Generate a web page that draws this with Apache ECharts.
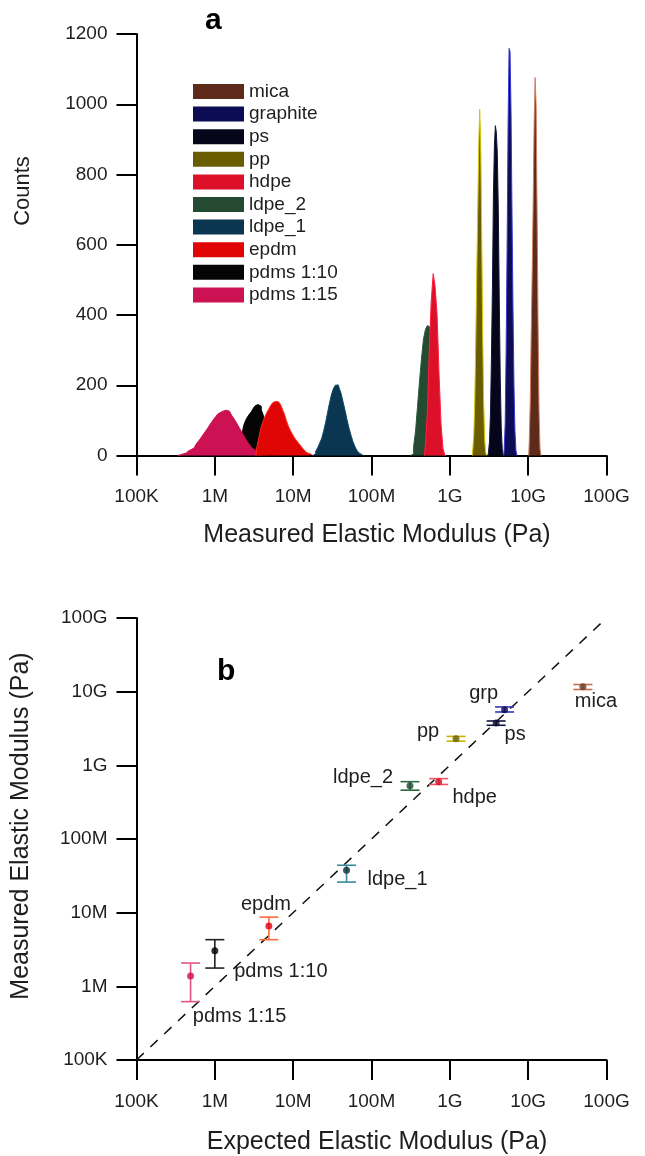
<!DOCTYPE html>
<html>
<head>
<meta charset="utf-8">
<script src="https://cdn.jsdelivr.net/npm/echarts@6/dist/echarts.min.js"></script>
<style>
html,body{margin:0;padding:0;background:#fff;}
#chart{width:645px;height:1156px;}
</style>
</head>
<body>
<div id="chart"></div>
<script>
// ---------- Panel a: histograms (log10 start of first bin, bin step in decades, counts) ----------
var histNames = ['pdms 1:10','pdms 1:15','epdm','ldpe_1','ldpe_2','hdpe','pp','ps','graphite','mica'];
var histStart = [6.33, 5.55, 6.55, 7.275, 8.525, 8.70, 9.30, 9.50, 9.70, 10.02];
var histStep  = [0.025, 0.025, 0.025, 0.025, 0.025, 0.025, 0.0125, 0.0125, 0.0125, 0.0125];
var countsPdms110 = [20,55,85,100,110,118,125,135,142,145,140,130,115,95,75,55,35,18,8];
var countsPdms115 = [2,3,5,7,10,13,17,22,27,33,40,47,55,63,71,79,88,96,104,111,118,123,127,130,129,126,121,115,107,98,89,79,69,59,49,40,32,25,19,14,10,6,4,2];
var countsEpdm    = [25,50,78,95,110,122,132,142,150,154,153,152,146,132,118,100,84,72,62,52,44,37,30,23,16,10,6,3];
var countsLdpe1   = [5,12,22,35,48,68,92,120,148,172,190,200,201,192,176,152,128,102,78,58,40,26,15,8,3];
var countsLdpe2   = [5,25,70,140,210,275,330,358,370,365,330,260,180,100,40,10];
var countsHdpe    = [30,120,300,440,518,480,400,230,90,20];
var countsPp      = [20,60,160,330,520,700,880,986,900,640,360,160,50,10];
var countsPs      = [10,40,120,280,480,740,880,939,920,860,700,440,220,80,20];
var countsGraphite= [15,90,300,600,950,1159,1150,980,690,420,200,70,15];
var countsMica    = [40,150,350,520,720,950,1076,1000,700,380,130,20];
var histCounts = [countsPdms110,countsPdms115,countsEpdm,countsLdpe1,countsLdpe2,countsHdpe,countsPp,countsPs,countsGraphite,countsMica];
var legendOrder = ['mica','graphite','ps','pp','hdpe','ldpe_2','ldpe_1','epdm','pdms 1:10','pdms 1:15'];
var countTicks = [0,200,400,600,800,1000,1200];

// ---------- Panel b: expected vs measured modulus (Pa) ----------
var pointNames = ['mica','grp','ps','pp','ldpe_2','hdpe','ldpe_1','epdm','pdms 1:10','pdms 1:15'];
var expected   = [5.0e10, 5.0e9, 3.9e9, 1.2e9, 3.1e8, 7.2e8, 4.8e7, 4.9e6, 1.0e6, 4.9e5];
var measured   = [1.17e10, 5.7e9, 3.76e9, 2.29e9, 5.3e8, 6.0e8, 3.76e7, 6.6e6, 3.05e6, 1.38e6];
var errLow     = [1.07e10, 5.3e9, 3.5e9, 2.13e9, 4.6e8, 5.5e8, 2.6e7, 4.3e6, 1.77e6, 6.2e5];
var errHigh    = [1.25e10, 6.2e9, 4.0e9, 2.47e9, 6.0e8, 6.6e8, 4.4e7, 8.7e6, 4.3e6, 2.07e6];
var modulusTickLabels = ['100K','1M','10M','100M','1G','10G','100G'];
var identityLine = [[1e5,1e5],[1e11,1e11]];

// ---------- styles ----------
var FONT = 'Liberation Sans';
var TXT = '#1e1e1e';
var histFill = {'mica':'#5e2a1a','graphite':'#0c0c55','ps':'#06061a','pp':'#6a5c00','hdpe':'#dc1028','ldpe_2':'#244a32','ldpe_1':'#0b3652','epdm':'#e00606','pdms 1:10':'#050505','pdms 1:15':'#cc1252'};
var histEdge = {'mica':'#d08060','graphite':'#3a3ad0','ps':'#14143a','pp':'#d8c800','hdpe':'#ff2040','ldpe_2':'#2a5a3a','ldpe_1':'#0d4a68','epdm':'#ff2a1a','pdms 1:10':'#050505','pdms 1:15':'#cc1252'};
var dotColor = ['#6b3a28','#0a0a55','#0a0a30','#6b6000','#1e4a2e','#d01020','#0a2a3a','#e00010','#000000','#d0104a'];
var barColor = ['#c4704c','#3535b0','#15153f','#c8b400','#2d6a40','#f0506a','#3a8a9a','#ff6a3a','#222222','#e05585'];
var labelOffset = [[13,15],[-21,-16],[19,12],[-28,-7],[-47,-8],[36,16],[51,9],[-3,-21],[66,21],[49,40]];

function fmtLog(v){
  var e = Math.round(Math.log(v)/Math.LN10);
  var i = e - 5;
  return (i>=0 && i<modulusTickLabels.length) ? modulusTickLabels[i] : '';
}

var series = [];
histNames.forEach(function(name, k){
  var c = histCounts[k], s = histStart[k], st = histStep[k];
  var data = [[Math.pow(10, s - st), 0]];
  for (var i=0;i<c.length;i++) data.push([Math.pow(10, s + i*st), c[i]]);
  data.push([Math.pow(10, s + c.length*st), 0]);
  series.push({
    name: name, type: 'line', xAxisIndex: 0, yAxisIndex: 0,
    step: 'middle', symbol: 'none', data: data, z: 2 + k,
    color: histFill[name],
    lineStyle: {color: histEdge[name], width: 1},
    areaStyle: {color: histFill[name], opacity: 1},
    itemStyle: {color: histFill[name]},
    emphasis: {disabled: true}, animation: false
  });
});

series.push({
  type: 'line', xAxisIndex: 1, yAxisIndex: 1, data: identityLine,
  symbol: 'none', lineStyle: {color: '#111', width: 1.5, type: [10, 9]},
  animation: false, silent: true, z: 1
});

var errData = expected.map(function(x,i){ return [x, errLow[i], errHigh[i]]; });
series.push({
  type: 'custom', xAxisIndex: 1, yAxisIndex: 1, data: errData, z: 3,
  renderItem: function(params, api){
    var x = api.value(0), lo = api.value(1), hi = api.value(2);
    var a = api.coord([x, lo]), b = api.coord([x, hi]);
    var hw = 9.5;
    var st = {stroke: barColor[params.dataIndex], lineWidth: 1.6, fill: null};
    return {type:'group', children:[
      {type:'line', shape:{x1:a[0],y1:a[1],x2:b[0],y2:b[1]}, style: st},
      {type:'line', shape:{x1:a[0]-hw,y1:a[1],x2:a[0]+hw,y2:a[1]}, style: st},
      {type:'line', shape:{x1:b[0]-hw,y1:b[1],x2:b[0]+hw,y2:b[1]}, style: st}
    ]};
  },
  animation: false, silent: true
});

series.push({
  type: 'scatter', xAxisIndex: 1, yAxisIndex: 1, z: 4, symbolSize: 7,
  data: expected.map(function(x,i){
    return {value:[x, measured[i]], name: pointNames[i],
      itemStyle:{color: dotColor[i]},
      label:{show:true, formatter: pointNames[i], position:'inside', offset: labelOffset[i],
        fontFamily: FONT, fontSize: 20, color: TXT, textBorderWidth: 0, opacity: 1}};
  }),
  animation: false, silent: true
});

var axisLineStyle = {show:true, lineStyle:{color:'#000', width:2}};
var tickStyle = {show:true, length:20, lineStyle:{color:'#000', width:2}};

var option = {
  backgroundColor: '#fff',
  animation: false,
  textStyle: {fontFamily: FONT},
  grid: [
    {left: 136.5, right: 38.5, top: 34, height: 421.5},
    {left: 136.5, right: 38.5, top: 618, height: 442}
  ],
  legend: {
    data: legendOrder, orient: 'vertical', left: 193, top: 82,
    icon: 'rect', itemWidth: 51, itemHeight: 15, itemGap: 3.6, padding: 0,
    textStyle: {fontFamily: FONT, fontSize: 19, color: TXT, lineHeight: 19},
    selectedMode: false
  },
  xAxis: [
    {type:'log', logBase:10, gridIndex:0, min:1e5, max:1e11,
     axisLine: axisLineStyle, axisTick: tickStyle, minorTick:{show:false},
     splitLine:{show:false},
     axisLabel:{formatter: fmtLog, fontFamily:FONT, fontSize:19, color:TXT, margin:32}},
    {type:'log', logBase:10, gridIndex:1, min:1e5, max:1e11,
     axisLine: axisLineStyle, axisTick: tickStyle, minorTick:{show:false},
     splitLine:{show:false},
     axisLabel:{formatter: fmtLog, fontFamily:FONT, fontSize:19, color:TXT, margin:32}}
  ],
  yAxis: [
    {type:'value', gridIndex:0, min:countTicks[0], max:countTicks[countTicks.length-1], interval:200,
     axisLine: axisLineStyle, axisTick: tickStyle, splitLine:{show:false},
     axisLabel:{formatter: function(v){ return String(v); }, fontFamily:FONT, fontSize:19, color:TXT, margin:29}},
    {type:'log', logBase:10, gridIndex:1, min:1e5, max:1e11,
     axisLine: axisLineStyle, axisTick: tickStyle, minorTick:{show:false},
     splitLine:{show:false},
     axisLabel:{formatter: fmtLog, fontFamily:FONT, fontSize:19, color:TXT, margin:29}}
  ],
  graphic: [
    {type:'text', left: 205, top: 6, style:{text:'a', font:'bold 30px "Liberation Sans"', fill:'#000'}},
    {type:'text', left: 217, top: 657, style:{text:'b', font:'bold 30px "Liberation Sans"', fill:'#000'}},
    {type:'text', x: 23, y: 191, rotation: Math.PI/2,
     style:{text:'Counts', font:'22px "Liberation Sans"', fill:TXT, align:'center', verticalAlign:'middle'}},
    {type:'text', x: 377, y: 535,
     style:{text:'Measured Elastic Modulus (Pa)', font:'25px "Liberation Sans"', fill:TXT, align:'center', verticalAlign:'middle'}},
    {type:'text', x: 21, y: 826, rotation: Math.PI/2,
     style:{text:'Measured Elastic Modulus (Pa)', font:'25px "Liberation Sans"', fill:TXT, align:'center', verticalAlign:'middle'}},
    {type:'text', x: 377, y: 1142,
     style:{text:'Expected Elastic Modulus (Pa)', font:'25px "Liberation Sans"', fill:TXT, align:'center', verticalAlign:'middle'}}
  ],
  series: series
};

var chart = echarts.init(document.getElementById('chart'), null, {renderer:'canvas'});
chart.setOption(option);
</script>
</body>
</html>
